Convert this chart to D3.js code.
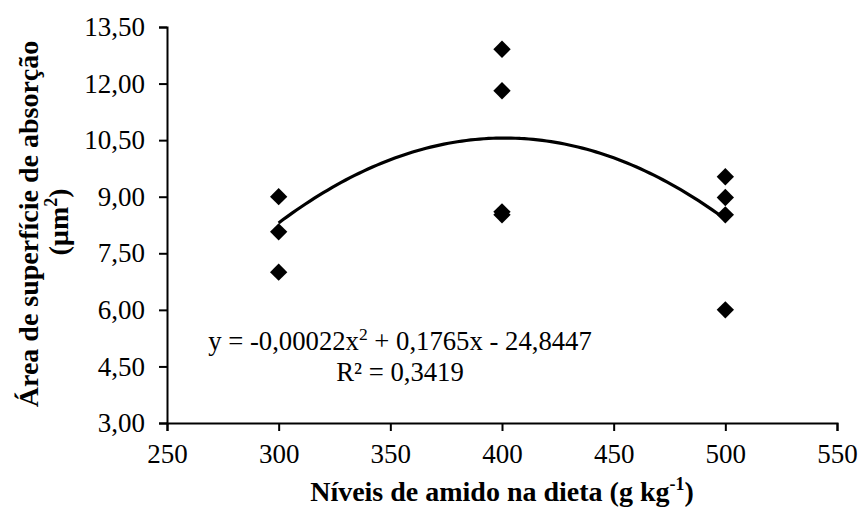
<!DOCTYPE html>
<html>
<head>
<meta charset="utf-8">
<script src="https://cdn.jsdelivr.net/npm/d3@7"></script>
<style>
  html, body { margin: 0; padding: 0; background: #fff; }
  svg { display: block; }
  text { font-family: "Liberation Serif", "Times New Roman", serif; fill: #000; }
</style>
</head>
<body>
<svg id="chart" width="860" height="508"></svg>
<script>
// ---- Data ----
const starchLevels = [300, 300, 300, 400, 400, 400, 400, 500, 500, 500, 500];
const absorptionArea = [9.00, 8.07, 7.00, 12.91, 11.81, 8.60, 8.52, 9.53, 8.98, 8.52, 6.00];
const trendCoefficients = [-0.00022, 0.1765, -24.8447]; // a x^2 + b x + c
const trendRange = [300, 500];
const xTicks = [250, 300, 350, 400, 450, 500, 550];
const yTicks = [3.00, 4.50, 6.00, 7.50, 9.00, 10.50, 12.00, 13.50];
const equationLabel = "y = -0,00022x";
const equationRest = " + 0,1765x - 24,8447";
const r2Label = "R² = 0,3419";

// ---- Layout ----
const svg = d3.select("#chart");
const plotLeft = 167, plotRight = 837, plotTop = 27, plotBottom = 423;

const x = d3.scaleLinear().domain([250, 550]).range([plotLeft, plotRight]);
const y = d3.scaleLinear().domain([3, 13.5]).range([plotBottom, plotTop]);
const fmt = d => d3.format(".2f")(d).replace(".", ",");

// X axis
const xAxis = svg.append("g")
  .attr("transform", `translate(0,${plotBottom})`)
  .call(d3.axisBottom(x).tickValues(xTicks).tickSize(8).tickPadding(13).tickFormat(d3.format("d")));
xAxis.select(".domain").attr("stroke", "#000").attr("stroke-width", 2);
xAxis.selectAll(".tick line").attr("stroke", "#000").attr("stroke-width", 2);
xAxis.selectAll(".tick text").attr("font-size", 27).attr("font-family", "Liberation Serif").attr("fill", "#000");

// Y axis
const yAxis = svg.append("g")
  .attr("transform", `translate(${plotLeft},0)`)
  .call(d3.axisLeft(y).tickValues(yTicks).tickSize(8).tickPadding(14).tickFormat(fmt));
yAxis.select(".domain").attr("stroke", "#000").attr("stroke-width", 2);
yAxis.selectAll(".tick line").attr("stroke", "#000").attr("stroke-width", 2);
yAxis.selectAll(".tick text").attr("font-size", 27).attr("font-family", "Liberation Serif").attr("fill", "#000");

// Trend line
const [a, b, c] = trendCoefficients;
const curveX = d3.range(trendRange[0], trendRange[1] + 0.5, 2);
const line = d3.line().x(d => x(d)).y(d => y(a * d * d + b * d + c)).curve(d3.curveMonotoneX);
svg.append("path")
  .datum(curveX)
  .attr("d", line)
  .attr("fill", "none")
  .attr("stroke", "#000")
  .attr("stroke-width", 3.2);

// Points (diamonds)
const diamond = d3.symbol().type(d3.symbolSquare).size(150);
svg.append("g").selectAll("path")
  .data(starchLevels.map((lv, i) => ({ lv, v: absorptionArea[i] })))
  .join("path")
  .attr("d", diamond)
  .attr("transform", d => `translate(${x(d.lv)},${y(d.v)}) rotate(45)`)
  .attr("fill", "#000");

// Equation
const eq = svg.append("text")
  .attr("x", 400).attr("y", 350)
  .attr("text-anchor", "middle")
  .attr("font-size", 26.7);
eq.append("tspan").text(equationLabel);
eq.append("tspan").attr("dy", -10).attr("font-size", 17.5).text("2");
eq.append("tspan").attr("dy", 10).text(equationRest);

svg.append("text")
  .attr("x", 400).attr("y", 381)
  .attr("text-anchor", "middle")
  .attr("font-size", 26.7)
  .text(r2Label);

// X title
const xt = svg.append("text")
  .attr("x", 502).attr("y", 501)
  .attr("text-anchor", "middle")
  .attr("font-weight", "bold")
  .attr("font-size", 28);
xt.append("tspan").text("Níveis de amido na dieta (g kg");
xt.append("tspan").attr("dy", -11).attr("font-size", 18).text("-1");
xt.append("tspan").attr("dy", 11).text(")");

// Y title
const yt = svg.append("text")
  .attr("transform", "translate(38,224) rotate(-90)")
  .attr("text-anchor", "middle")
  .attr("font-weight", "bold")
  .attr("font-size", 28);
yt.append("tspan").attr("x", 0).attr("y", 0).text("Área de superfície de absorção");
const yt2 = svg.append("text")
  .attr("transform", "translate(68,222) rotate(-90)")
  .attr("text-anchor", "middle")
  .attr("font-weight", "bold")
  .attr("font-size", 28);
yt2.append("tspan").text("(µm");
yt2.append("tspan").attr("dy", -11).attr("font-size", 18).text("2");
yt2.append("tspan").attr("dy", 11).text(")");
</script>
</body>
</html>
